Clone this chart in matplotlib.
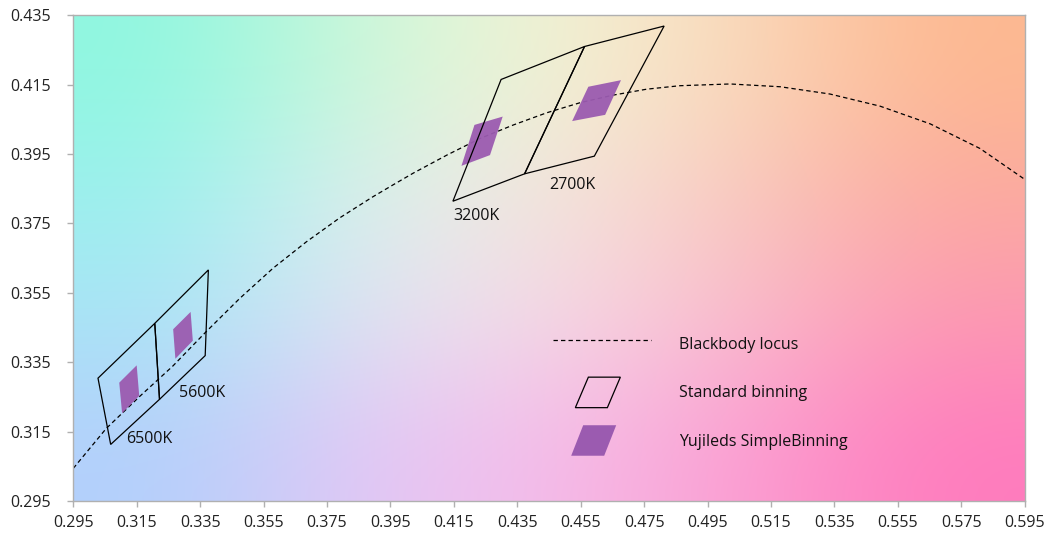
import numpy as np
import matplotlib
matplotlib.use("Agg")
from matplotlib import pyplot as plt
from matplotlib import colors as mcolors
from matplotlib.patches import Polygon
from matplotlib.lines import Line2D
from matplotlib.legend_handler import HandlerPatch

plt.rcParams['font.family'] = ['Open Sans', 'DejaVu Sans']

# blackbody locus
locus_x = [0.2950, 0.3054, 0.3159, 0.3264, 0.3369, 0.3475, 0.3580, 0.3685,
           0.3790, 0.3895, 0.3958, 0.4022, 0.4128, 0.4233, 0.4338, 0.4443,
           0.4548, 0.4653, 0.4758, 0.4863, 0.5021, 0.5179, 0.5336, 0.5494,
           0.5652, 0.5809, 0.5950]
locus_y = [0.3044, 0.3159, 0.3251, 0.3339, 0.3438, 0.3534, 0.3621, 0.3697,
           0.3766, 0.3827, 0.3861, 0.3895, 0.3947, 0.3995, 0.4034, 0.4069,
           0.4098, 0.4120, 0.4137, 0.4147, 0.4152, 0.4144, 0.4123, 0.4088,
           0.4037, 0.3966, 0.3877]

# standard (ANSI) bins: corners (x, y)
bin_names = ['6500K', '5600K', '3200K', '2700K']
std_bins = [
    [(0.3028, 0.3304), (0.3207, 0.3462), (0.3222, 0.3243), (0.3068, 0.3113)],
    [(0.3207, 0.3462), (0.3376, 0.3616), (0.3366, 0.3369), (0.3222, 0.3243)],
    [(0.4147, 0.3814), (0.4299, 0.4165), (0.4562, 0.4260), (0.4373, 0.3893)],
    [(0.4373, 0.3893), (0.4562, 0.4260), (0.4813, 0.4319), (0.4593, 0.3944)],
]
# simple binning: smaller quads
simple_bins = [
    [(0.3095, 0.3291), (0.3150, 0.3341), (0.3158, 0.3253), (0.3104, 0.3203)],
    [(0.3265, 0.3445), (0.3320, 0.3495), (0.3327, 0.3412), (0.3272, 0.3360)],
    [(0.4215, 0.4034), (0.4304, 0.4058), (0.4264, 0.3947), (0.4174, 0.3916)],
    [(0.4574, 0.4144), (0.4677, 0.4163), (0.4627, 0.4063), (0.4523, 0.4045)],
]
# label anchor points (left, centre)
label_pos = [(0.3118, 0.3128), (0.3283, 0.3261), (0.4149, 0.3771), (0.4452, 0.3861)]

xticks = np.arange(0.295, 0.5951, 0.02)
yticks = np.arange(0.295, 0.4351, 0.02)

# background colour grid
bg_rows = [
    ['#8ef7e0', '#cdf7d9', '#f3f4d6', '#fad9bc', '#fdb890'],
    ['#9af0ee', '#dcf0ee', '#f5e5df', '#f9c9be', '#fba99f'],
    ['#a8e4f6', '#e0e4f4', '#f6dbe6', '#f9bccd', '#fc98b2'],
    ['#b2d0fc', '#e2c8f6', '#f6bcea', '#fb9fd2', '#ff7abd'],
]

purple = '#9b5bb0'
fs = 11.5

fig = plt.figure(figsize=(10.48, 5.38), dpi=100)
ax = fig.add_axes([0.0699, 0.0688, 0.9079, 0.9028])

bg = np.array([[mcolors.to_rgb(c) for c in row] for row in bg_rows])
ax.imshow(bg, extent=(0.295, 0.595, 0.295, 0.435), origin='upper',
          aspect='auto', interpolation='bicubic', zorder=0)

ax.plot(locus_x, locus_y, color='black', lw=0.9, dashes=(3.5, 2.5), zorder=2)

for quad in std_bins:
    ax.add_patch(Polygon(quad, closed=True, fill=False, edgecolor='black',
                         lw=0.9, zorder=3))
for quad in simple_bins:
    ax.add_patch(Polygon(quad, closed=True, facecolor=purple, edgecolor='none',
                         alpha=0.95, zorder=2.5))
for name, (lx, ly) in zip(bin_names, label_pos):
    ax.text(lx, ly, name, fontsize=fs, color='#111111', ha='left', va='center', zorder=4)

ax.set_xlim(0.295, 0.595)
ax.set_ylim(0.295, 0.435)
ax.set_xticks(xticks)
ax.set_yticks(yticks)
ax.set_xticklabels(['%.3f' % v for v in xticks])
ax.set_yticklabels(['%.3f' % v for v in yticks])
ax.tick_params(axis='both', direction='out', length=4, width=1, color='#b0b0b0',
               labelsize=fs, labelcolor='#222222')
ax.tick_params(axis='x', pad=6)
ax.tick_params(axis='y', pad=12)
for s in ax.spines.values():
    s.set_color('#b0b0b0')
    s.set_linewidth(1)


def make_para(skew, shift):
    def f(legend, orig_handle, xdescent, ydescent, width, height, fontsize):
        w = 45.0 * 0.72
        h = 30.5 * 0.72
        cx = -xdescent + width / 2.0 + shift
        cy = -ydescent + height / 2.0
        k = skew * 0.72
        pts = [(cx - w / 2, cy - h / 2), (cx - w / 2 + k, cy + h / 2),
               (cx + w / 2, cy + h / 2), (cx + w / 2 - k, cy - h / 2)]
        return Polygon(pts, closed=True)
    return f


h_line = Line2D([], [], color='black', lw=0.9, dashes=(3.5, 2.5))
h_std = Polygon([(0, 0)], closed=True, fill=False, edgecolor='black', lw=0.9)
h_simple = Polygon([(0, 0)], closed=True, facecolor=purple, edgecolor='none')
leg = ax.legend([h_line, h_std, h_simple],
                ['Blackbody locus', 'Standard binning', 'Yujileds SimpleBinning'],
                handler_map={h_std: HandlerPatch(patch_func=make_para(13, -3)),
                             h_simple: HandlerPatch(patch_func=make_para(12, -6))},
                loc='upper left', bbox_to_anchor=(0.5042, 0.349), borderpad=0,
                borderaxespad=0, frameon=False, fontsize=fs, handlelength=6.14,
                handleheight=2.1, labelspacing=1.40, handletextpad=1.75)
for t in leg.get_texts():
    t.set_color('#111111')

fig.savefig('out.png', dpi=100)
